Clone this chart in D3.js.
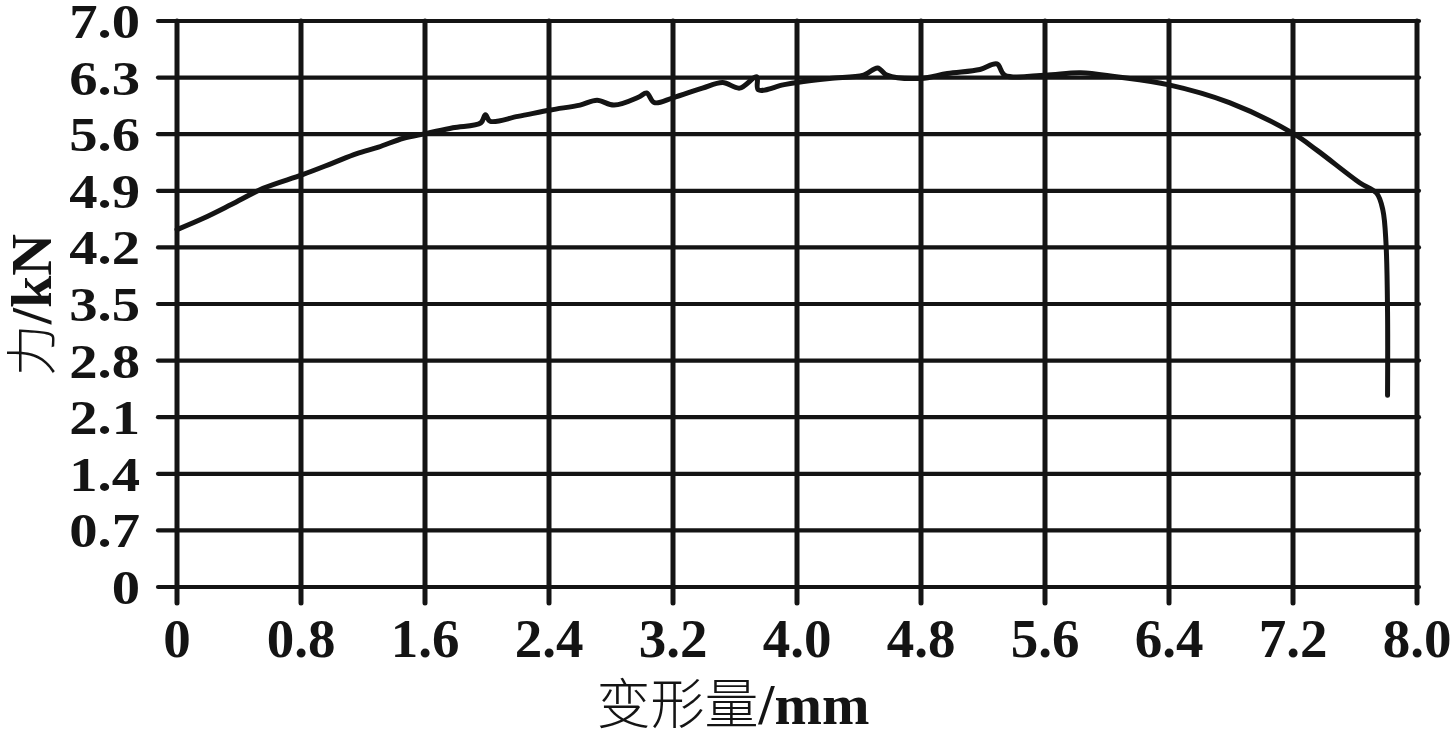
<!DOCTYPE html>
<html>
<head>
<meta charset="utf-8">
<script src="https://cdn.jsdelivr.net/npm/d3@7/dist/d3.min.js"></script>
<style>
  html, body { margin: 0; padding: 0; background: #fff; }
  svg { display: block; }
</style>
</head>
<body>
<svg id="chart" width="1451" height="731"></svg>
<script>
// ---- data ----
const xTicks = [0, 0.8, 1.6, 2.4, 3.2, 4.0, 4.8, 5.6, 6.4, 7.2, 8.0];
const xTickLabels = ["0", "0.8", "1.6", "2.4", "3.2", "4.0", "4.8", "5.6", "6.4", "7.2", "8.0"];
const yTicks = [0, 0.7, 1.4, 2.1, 2.8, 3.5, 4.2, 4.9, 5.6, 6.3, 7.0];
const yTickLabels = ["0", "0.7", "1.4", "2.1", "2.8", "3.5", "4.2", "4.9", "5.6", "6.3", "7.0"];
const deformation = [0, 0.17, 0.35, 0.555, 0.81, 1.0, 1.16, 1.3, 1.46, 1.61, 1.78, 1.96, 1.99, 2.02, 2.2, 2.41, 2.6, 2.71, 2.82, 2.98, 3.03, 3.08, 3.2, 3.39, 3.52, 3.63, 3.74, 3.75, 3.91, 4.0, 4.21, 4.43, 4.52, 4.58, 4.8, 4.97, 5.18, 5.29, 5.34, 5.6, 5.83, 6.06, 6.4, 6.79, 7.2, 7.356, 7.63, 7.74, 7.78, 7.80, 7.81, 7.81];
const force = [4.42, 4.56, 4.73, 4.93, 5.10, 5.24, 5.36, 5.44, 5.55, 5.61, 5.68, 5.74, 5.84, 5.76, 5.82, 5.90, 5.96, 6.02, 5.96, 6.06, 6.11, 5.99, 6.05, 6.17, 6.24, 6.17, 6.31, 6.15, 6.21, 6.24, 6.29, 6.33, 6.42, 6.33, 6.29, 6.35, 6.40, 6.47, 6.33, 6.33, 6.36, 6.31, 6.21, 5.99, 5.61, 5.40, 5.0, 4.87, 4.66, 4.25, 3.4, 2.37];
const xTitle = ["变形量", "/mm"];
const yTitle = ["力", "/kN"];

// ---- layout ----
const svg = d3.select("#chart");
const x = d3.scaleLinear().domain([0, 8]).range([177, 1417]);
const y = d3.scaleLinear().domain([0, 7]).range([587, 21]);
const ink = "#141414";
const serif = "'Liberation Serif', 'Times New Roman', serif";
const cjk = "'Noto Sans CJK SC', sans-serif";

// horizontal grid lines
svg.append("g").selectAll("line").data(yTicks).join("line")
  .attr("x1", 158).attr("x2", 1419)
  .attr("y1", d => y(d)).attr("y2", d => y(d))
  .attr("stroke", ink).attr("stroke-width", 4.2).attr("stroke-linecap", "round");

// vertical grid lines
svg.append("g").selectAll("line").data(xTicks).join("line")
  .attr("x1", d => x(d)).attr("x2", d => x(d))
  .attr("y1", y(7.0)).attr("y2", 603)
  .attr("stroke", ink).attr("stroke-width", 5).attr("stroke-linecap", "round");

// curve
const pts = deformation.map((d, i) => [d, force[i]]);
svg.append("path")
  .datum(pts)
  .attr("fill", "none")
  .attr("stroke", ink)
  .attr("stroke-width", 5)
  .attr("stroke-linejoin", "round")
  .attr("stroke-linecap", "round")
  .attr("d", d3.line().x(d => x(d[0])).y(d => y(d[1])).curve(d3.curveCatmullRom.alpha(0.5)));

// x tick labels
svg.append("g").selectAll("text").data(xTicks).join("text")
  .attr("x", d => x(d)).attr("y", 657)
  .attr("text-anchor", "middle")
  .attr("font-family", serif).attr("font-weight", "bold").attr("font-size", 55)
  .attr("fill", ink)
  .text((d, i) => xTickLabels[i]);

// y tick labels (slightly compressed vertically like the reference)
svg.append("g").selectAll("text").data(yTicks).join("text")
  .attr("transform", d => `translate(140, ${y(d) + 17}) scale(1.03, 0.9)`)
  .attr("text-anchor", "end")
  .attr("font-family", serif).attr("font-weight", "bold").attr("font-size", 55)
  .attr("fill", ink)
  .text((d, i) => yTickLabels[i]);

// x title
const xt = svg.append("text")
  .attr("x", 733).attr("y", 724)
  .attr("text-anchor", "middle")
  .attr("fill", ink);
xt.append("tspan").attr("font-family", cjk).attr("font-weight", 300).attr("font-size", 54).text(xTitle[0]);
xt.append("tspan").attr("font-family", serif).attr("font-weight", "bold").attr("font-size", 57).text(xTitle[1]);

// y title
const yt = svg.append("text")
  .attr("transform", "translate(51, 305) rotate(-90)")
  .attr("text-anchor", "middle")
  .attr("fill", ink);
yt.append("tspan").attr("font-family", cjk).attr("font-weight", 300).attr("font-size", 52).text(yTitle[0]);
yt.append("tspan").attr("font-family", serif).attr("font-weight", "bold").attr("font-size", 58).text(yTitle[1]);
</script>
</body>
</html>
